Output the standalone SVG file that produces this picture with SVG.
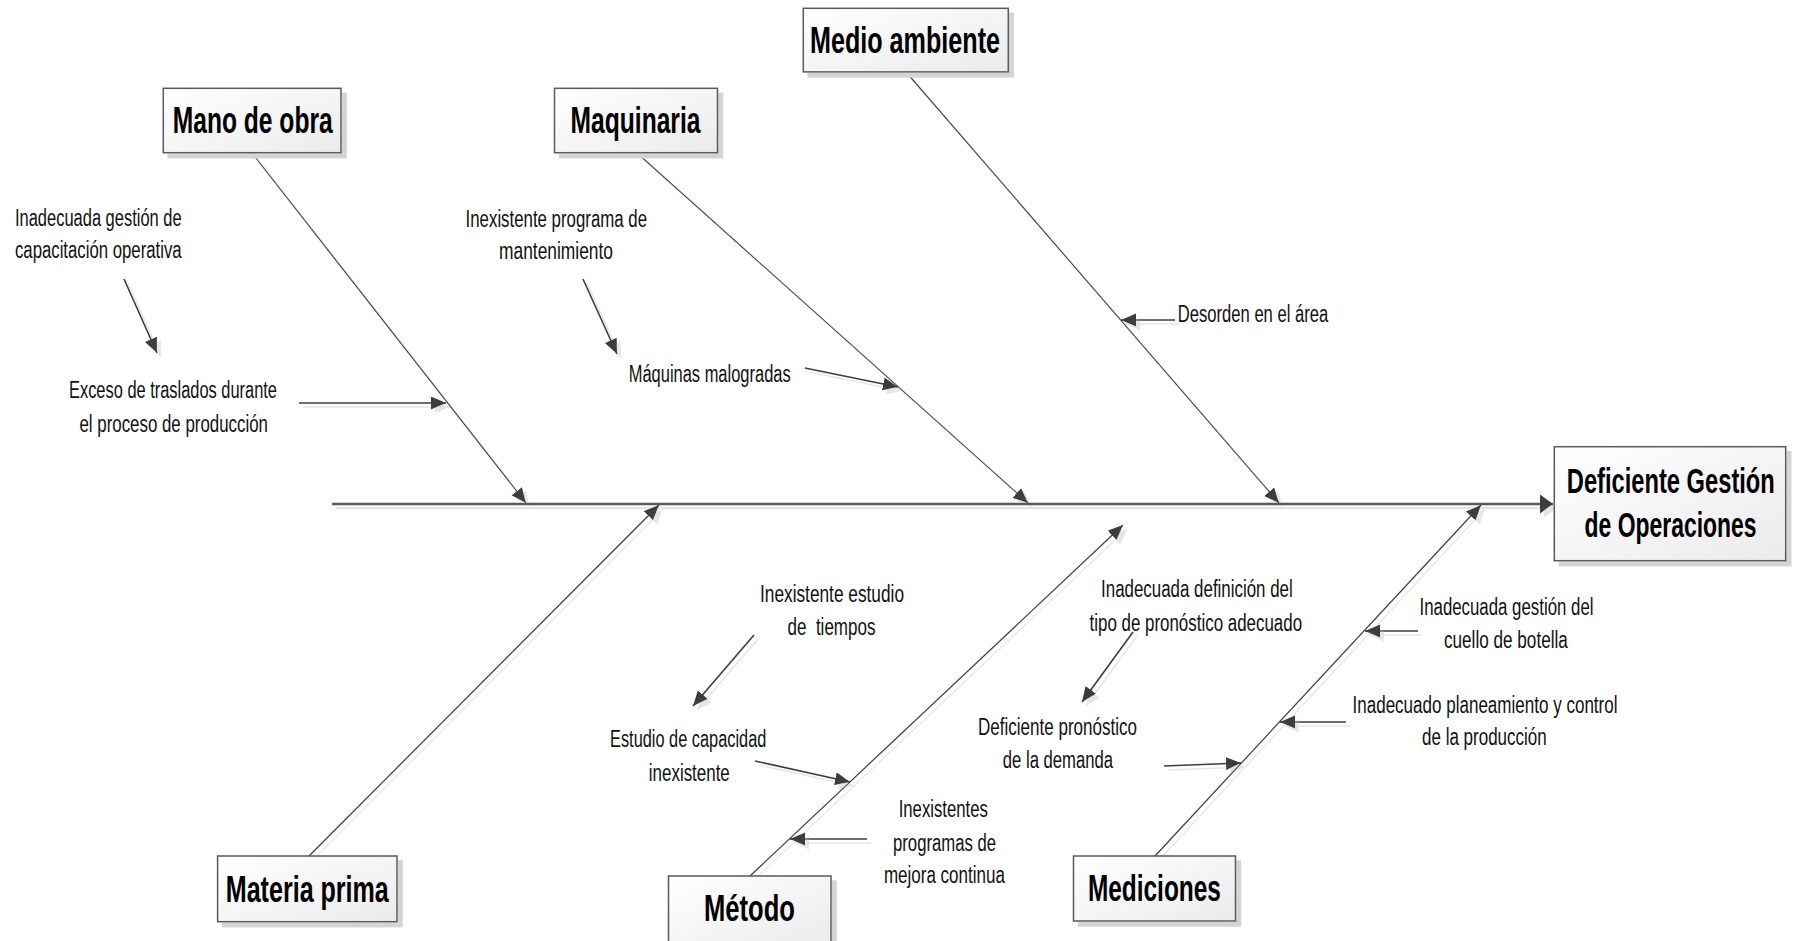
<svg xmlns="http://www.w3.org/2000/svg" width="1795" height="941" viewBox="0 0 1795 941">
<style>
.box{fill:url(#boxgrad);stroke:#5a5a5a;stroke-width:1.5}
.head{font-family:"Liberation Sans",Arial,sans-serif;font-weight:bold;font-size:36px;fill:#000;text-anchor:middle}
.lbl{font-family:"Liberation Sans",Arial,sans-serif;font-size:23px;fill:#111;text-anchor:middle}
.bone{stroke:#3c3c3c;stroke-width:1.2;fill:none;marker-end:url(#ah)}
.sub{stroke:#3c3c3c;stroke-width:1.6;fill:none;marker-end:url(#ah)}
.spine{stroke:#5a5a5a;stroke-width:2.5;fill:none;marker-end:url(#ahBig)}
</style>
<defs>
<linearGradient id="boxgrad" x1="0" y1="0" x2="1" y2="1">
<stop offset="0" stop-color="#ffffff"/>
<stop offset="1" stop-color="#ebebeb"/>
</linearGradient>
<filter id="shBox" x="-10%" y="-10%" width="130%" height="130%">
<feOffset in="SourceAlpha" dx="5" dy="5" result="o"/>
<feFlood flood-color="#d4d4d4"/>
<feComposite in2="o" operator="in" result="s"/>
<feMerge><feMergeNode in="s"/><feMergeNode in="SourceGraphic"/></feMerge>
</filter>
<filter id="shLine" x="-10%" y="-10%" width="130%" height="130%">
<feOffset in="SourceAlpha" dx="4" dy="4" result="o"/>
<feFlood flood-color="#e6e6e6"/>
<feComposite in2="o" operator="in" result="s"/>
<feMerge><feMergeNode in="s"/><feMergeNode in="SourceGraphic"/></feMerge>
</filter>
<marker id="ah" markerUnits="userSpaceOnUse" markerWidth="16" markerHeight="14" refX="15" refY="6.5" orient="auto">
<path d="M0,0 L15,6.5 L0,13 z" fill="#3c3c3c"/>
</marker>
<marker id="ahBig" markerUnits="userSpaceOnUse" markerWidth="14" markerHeight="20" refX="13" refY="9.5" orient="auto">
<path d="M0,0 L13,9.5 L0,19 z" fill="#3c3c3c"/>
</marker>
</defs>
<rect width="1795" height="941" fill="#ffffff"/>

<g id="connectors" filter="url(#shLine)">
<path class="spine" d="M332,504 L1553,504"/>
<path class="bone" d="M252,153 L526,503"/>
<path class="bone" d="M637,153 L1028,503"/>
<path class="bone" d="M906,72 L1279,503"/>
<path class="bone" d="M309,856 L659,505"/>
<path class="bone" d="M750,876 L1123,525"/>
<path class="bone" d="M1155,856 L1481,505"/>
<path class="sub" d="M124,279 L157,353"/>
<path class="sub" d="M299,403 L446,403"/>
<path class="sub" d="M583,279 L617,354"/>
<path class="sub" d="M805,368 L898,387"/>
<path class="sub" d="M1175,320 L1121,320"/>
<path class="sub" d="M754,635 L693,706"/>
<path class="sub" d="M755,761 L850,782"/>
<path class="sub" d="M867,839 L790,839"/>
<path class="sub" d="M1133,632 L1082,702"/>
<path class="sub" d="M1164,766 L1241,763"/>
<path class="sub" d="M1418,631 L1365,631"/>
<path class="sub" d="M1346,722 L1280,722"/>
</g>

<g id="node-mano">
<rect class="box" filter="url(#shBox)" x="163.3" y="88.3" width="177.7" height="64.4"/>
<text class="head" x="252.7" y="132.6" textLength="160" lengthAdjust="spacingAndGlyphs">Mano de obra</text>
</g>
<g id="node-maquinaria">
<rect class="box" filter="url(#shBox)" x="554.5" y="88.3" width="163" height="64.4"/>
<text class="head" x="635.5" y="132.6" textLength="130" lengthAdjust="spacingAndGlyphs">Maquinaria</text>
</g>
<g id="node-medio">
<rect class="box" filter="url(#shBox)" x="803.3" y="8.3" width="205" height="63.6"/>
<text class="head" x="905" y="53" textLength="190" lengthAdjust="spacingAndGlyphs">Medio ambiente</text>
</g>
<g id="node-efecto">
<rect class="box" filter="url(#shBox)" x="1554.3" y="446.7" width="231.4" height="114"/>
<text class="head" transform="translate(1670.8,493) scale(0.65,1)" x="0" y="0" textLength="320" lengthAdjust="spacingAndGlyphs">Deficiente Gestión</text>
<text class="head" transform="translate(1670.5,537) scale(0.65,1)" x="0" y="0" textLength="264.6" lengthAdjust="spacingAndGlyphs">de Operaciones</text>
</g>
<g id="node-materia">
<rect class="box" filter="url(#shBox)" x="217.6" y="856" width="179.4" height="65.7"/>
<text class="head" x="307.3" y="901.8" textLength="163" lengthAdjust="spacingAndGlyphs">Materia prima</text>
</g>
<g id="node-metodo">
<rect class="box" filter="url(#shBox)" x="668.5" y="876" width="162.5" height="70"/>
<text class="head" x="749.5" y="920.5" textLength="91" lengthAdjust="spacingAndGlyphs">Método</text>
</g>
<g id="node-mediciones">
<rect class="box" filter="url(#shBox)" x="1073.5" y="856" width="162" height="65"/>
<text class="head" x="1154.4" y="900.5" textLength="133" lengthAdjust="spacingAndGlyphs">Mediciones</text>
</g>

<g id="labels">
<text class="lbl" x="98.3" y="225.7" textLength="166.7" lengthAdjust="spacingAndGlyphs">Inadecuada gestión de</text>
<text class="lbl" x="98.3" y="257.7" textLength="166.7" lengthAdjust="spacingAndGlyphs">capacitación operativa</text>
<text class="lbl" x="173" y="398" textLength="208" lengthAdjust="spacingAndGlyphs">Exceso de traslados durante</text>
<text class="lbl" x="173.7" y="432" textLength="188.5" lengthAdjust="spacingAndGlyphs">el proceso de producción</text>
<text class="lbl" x="556.3" y="226.5" textLength="181.4" lengthAdjust="spacingAndGlyphs">Inexistente programa de</text>
<text class="lbl" x="556" y="259" textLength="114" lengthAdjust="spacingAndGlyphs">mantenimiento</text>
<text class="lbl" x="709.7" y="381.5" textLength="162" lengthAdjust="spacingAndGlyphs">Máquinas malogradas</text>
<text class="lbl" x="1253" y="321.5" textLength="150.5" lengthAdjust="spacingAndGlyphs">Desorden en el área</text>
<text class="lbl" x="832" y="602" textLength="144" lengthAdjust="spacingAndGlyphs">Inexistente estudio</text>
<text class="lbl" x="831.5" y="635" textLength="88" lengthAdjust="spacingAndGlyphs" xml:space="preserve">de  tiempos</text>
<text class="lbl" x="688.2" y="746.7" textLength="156.4" lengthAdjust="spacingAndGlyphs">Estudio de capacidad</text>
<text class="lbl" x="689.3" y="780.7" textLength="81" lengthAdjust="spacingAndGlyphs">inexistente</text>
<text class="lbl" x="943.3" y="816.7" textLength="89.3" lengthAdjust="spacingAndGlyphs">Inexistentes</text>
<text class="lbl" x="944.5" y="850.7" textLength="103" lengthAdjust="spacingAndGlyphs">programas de</text>
<text class="lbl" x="944.4" y="883" textLength="121" lengthAdjust="spacingAndGlyphs">mejora continua</text>
<text class="lbl" x="1196.9" y="596.7" textLength="191.7" lengthAdjust="spacingAndGlyphs">Inadecuada definición del</text>
<text class="lbl" x="1195.8" y="630.7" textLength="212.5" lengthAdjust="spacingAndGlyphs">tipo de pronóstico adecuado</text>
<text class="lbl" x="1057.5" y="735" textLength="159" lengthAdjust="spacingAndGlyphs">Deficiente pronóstico</text>
<text class="lbl" x="1057.9" y="768.3" textLength="110.3" lengthAdjust="spacingAndGlyphs">de la demanda</text>
<text class="lbl" x="1506.5" y="615" textLength="174" lengthAdjust="spacingAndGlyphs">Inadecuada gestión del</text>
<text class="lbl" x="1505.9" y="648.3" textLength="123.8" lengthAdjust="spacingAndGlyphs">cuello de botella</text>
<text class="lbl" x="1485" y="713.3" textLength="265" lengthAdjust="spacingAndGlyphs">Inadecuado planeamiento y control</text>
<text class="lbl" x="1484.4" y="745" textLength="124.7" lengthAdjust="spacingAndGlyphs">de la producción</text>
</g>
</svg>
